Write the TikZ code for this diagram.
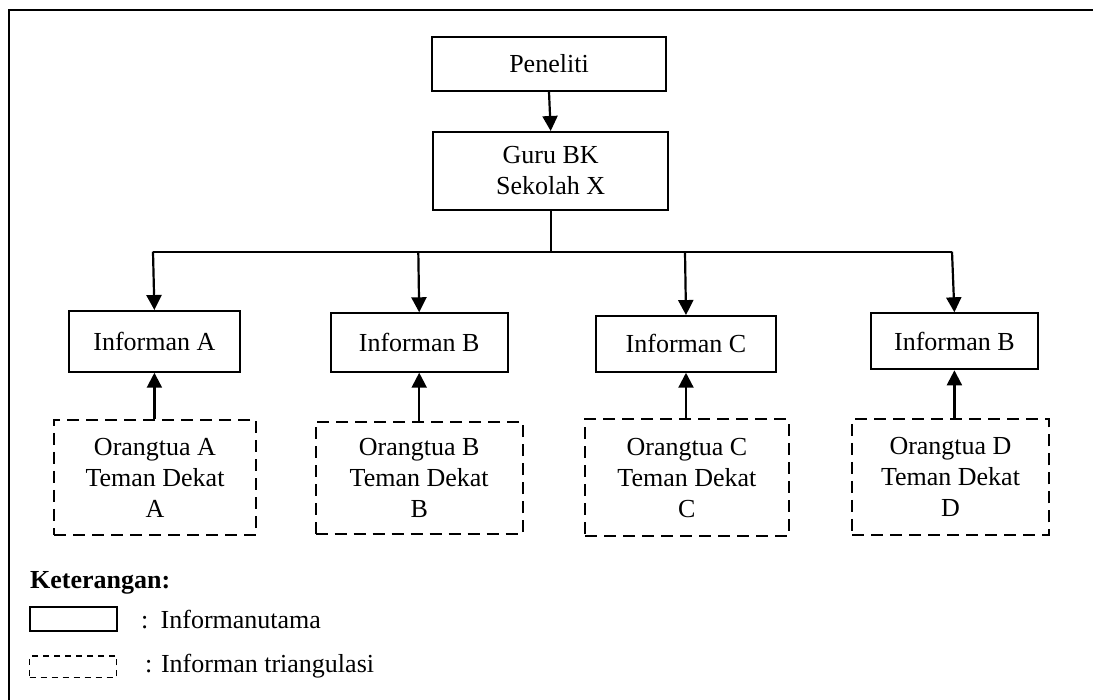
\documentclass[tikz,border=0pt]{standalone}
\usepackage{fontspec}
\setmainfont{Liberation Serif}
\usetikzlibrary{arrows.meta}
\begin{document}
\begin{tikzpicture}[x=1pt,y=-1pt,
  txt/.style={font=\fontsize{26}{31}\selectfont, align=center},
  mainbox/.style={txt, draw, rectangle, line width=2pt, inner sep=0pt},
  tribox/.style={txt, draw, rectangle, line width=2pt, dash pattern=on 12pt off 7pt, inner sep=0pt},
  conn/.style={line width=2.2pt, -{Triangle[width=15pt,length=15pt]}},
  link/.style={line width=2pt}]
\useasboundingbox (0,0) rectangle (1093,700);

% frame edges
\draw[line width=2.5pt] (9,700) -- (9,10) -- (1093,10);

% top of the hierarchy
\node[mainbox, minimum width=234pt, minimum height=54pt] (pen) at (549,64) {Peneliti};
\node[mainbox, minimum width=234.7pt, minimum height=78pt] (guru) at (550.7,171) {Guru BK\\Sekolah X};
\draw[conn] (pen.south) -- (guru.north);

% main informants
\node[mainbox, minimum width=170.7pt, minimum height=60.7pt] (infA) at (154.4,341.4) {Informan A};
\node[mainbox, minimum width=177pt, minimum height=58.4pt] (infB) at (419.2,342.5) {Informan B};
\node[mainbox, minimum width=180pt, minimum height=55.7pt] (infC) at (686,343.9) {Informan C};
\node[mainbox, minimum width=166.7pt, minimum height=56pt] (infD) at (954.4,341.3) {Informan B};

% triangulation informants
\node[tribox, minimum width=202pt, minimum height=115pt] (triA) at (155,477.5) {Orangtua A\\Teman Dekat\\A};
\node[tribox, minimum width=207pt, minimum height=112.3pt] (triB) at (419.2,477.9) {Orangtua B\\Teman Dekat\\B};
\node[tribox, minimum width=203.7pt, minimum height=116.7pt] (triC) at (686.9,477.7) {Orangtua C\\Teman Dekat\\C};
\node[tribox, minimum width=196.4pt, minimum height=115.7pt] (triD) at (950.5,477.2) {Orangtua D\\Teman Dekat\\D};

% distribution bus
\coordinate (ba) at (153,251.7);
\coordinate (bb) at (418.3,251.7);
\coordinate (bc) at (685,251.7);
\coordinate (bd) at (952,251.7);
\draw[link] (ba) -- (bd);
\draw[link] (guru.south) -- (guru.south |- ba);
\draw[conn] (ba) -- (infA.north);
\draw[conn] (bb) -- (infB.north);
\draw[conn] (bc) -- (infC.north);
\draw[conn] (bd) -- (infD.north);

% triangulation links
\draw[conn] (infA.south |- triA.north) -- (infA.south);
\draw[conn] (infB.south |- triB.north) -- (infB.south);
\draw[conn] (infC.south |- triC.north) -- (infC.south);
\draw[conn] (infD.south |- triD.north) -- (infD.south);

% legend
\node[txt, font=\fontsize{26}{31}\selectfont\bfseries, anchor=west, inner sep=0pt] (ket) at (30,583) {Keterangan:};
\node[draw, rectangle, line width=1.8pt, minimum width=87pt, minimum height=23.7pt, inner sep=0pt] (legmain) at (73.3,618.8) {};
\node[draw, rectangle, line width=1.5pt, dash pattern=on 6pt off 5pt, minimum width=87pt, minimum height=21.3pt, inner sep=0pt] (legtri) at (73.2,666.7) {};
\node[txt, anchor=west, inner sep=0pt] (legmaintxt) at (141,620) {:\hspace{12.3pt}Informanutama};
\node[txt, anchor=west, inner sep=0pt] (legtritxt) at (145,666) {: Informan triangulasi};
\end{tikzpicture}
\end{document}
